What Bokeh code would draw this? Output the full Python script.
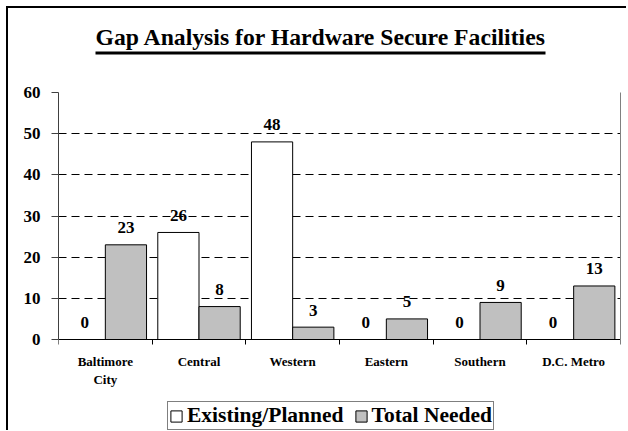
from bokeh.plotting import figure
from bokeh.models import (Range1d, FixedTicker, Legend, LegendItem, Title,
                          ColumnDataSource, LinearAxis)
from bokeh.embed import file_html
from bokeh.resources import INLINE
from bokeh.core.properties import value

# ---- data ----
categories = ["Baltimore\nCity", "Central", "Western", "Eastern", "Southern", "D.C. Metro"]
existing = [0, 26, 48, 0, 0, 0]
needed = [23, 8, 3, 5, 9, 13]
y_ticks = [0, 10, 20, 30, 40, 50, 60]
title_text = "Gap Analysis for Hardware Secure Facilities"
series_names = ["Existing/Planned", "Total Needed"]

FONT = "Liberation Serif"
OFF = 0.22
BW = 0.44

# layout: the plotted 0..60 band is 247 px tall; the frame is extended below it
# so that the category labels and the legend sit inside the frame
BAND_PX = 247
FRAME_PX = 340
Y_TOP = y_ticks[-1]
Y_BOTTOM = -Y_TOP * (FRAME_PX - BAND_PX) / BAND_PX

centers = [i + 0.5 for i in range(len(categories))]
src_e = ColumnDataSource(dict(x=[c - OFF for c in centers], top=existing,
                              lab=[str(v) for v in existing]))
src_n = ColumnDataSource(dict(x=[c + OFF for c in centers], top=needed,
                              lab=[str(v) for v in needed]))

p = figure(frame_width=562, frame_height=FRAME_PX, output_backend="svg",
           toolbar_location=None, title=None,
           x_range=Range1d(0, len(categories)), y_range=Range1d(Y_BOTTOM, Y_TOP),
           min_border_left=50, min_border_right=8, min_border_top=84, min_border_bottom=0)
p.background_fill_color = "white"
p.border_fill_color = "white"
p.outline_line_color = None
p.styles = {"margin-left": "8px", "margin-top": "8px",
            "box-shadow": "-2px -2px 0 0 black"}

# above: spacer, underline, title text (added from the frame outward)
p.add_layout(Title(text="\u200b", text_font_size="1px", standoff=35), "above")
p.add_layout(Title(text="\u200b", align="left", offset=37, text_font_size="1px",
                   standoff=0, background_fill_color="black",
                   padding=dict(left=225, right=225, top=1, bottom=1)), "above")
p.add_layout(Title(text=title_text, align="left", offset=37, text_font=FONT,
                   text_font_style="bold", text_font_size="23.7px",
                   text_color="black", standoff=0), "above")

# grid
p.xgrid.grid_line_color = None
p.ygrid.ticker = FixedTicker(ticks=y_ticks[1:])
p.ygrid.grid_line_color = "black"
p.ygrid.grid_line_dash = "8 5"
p.ygrid.grid_line_width = 1

# bars
r_e = p.vbar(x="x", top="top", width=BW, bottom=0, source=src_e,
             fill_color="white", line_color="black", line_width=1)
r_n = p.vbar(x="x", top="top", width=BW, bottom=0, source=src_n,
             fill_color="#c0c0c0", line_color="black", line_width=1)

# value labels
for src in (src_e, src_n):
    p.text(x="x", y="top", text="lab", source=src, text_align="center",
           text_baseline="alphabetic", y_offset=-17,
           text_font=value(FONT), text_font_style="bold", text_font_size="17px",
           text_color="black")

# y axis (line only over 0..60)
ya = p.yaxis[0]
ya.bounds = (y_ticks[0], y_ticks[-1])
ya.ticker = FixedTicker(ticks=y_ticks, minor_ticks=[])
ya.axis_line_color = "#404040"
ya.major_tick_line_color = "#404040"
ya.major_tick_out = 7
ya.major_tick_in = 0
ya.minor_tick_line_color = None
ya.major_label_standoff = 11
ya.major_label_text_font = FONT
ya.major_label_text_font_style = "bold"
ya.major_label_text_font_size = "17px"
ya.major_label_text_color = "black"

# right border of the plot area (0..60)
p.add_layout(LinearAxis(ticker=FixedTicker(ticks=[], minor_ticks=[]),
                        bounds=(y_ticks[0], y_ticks[-1]),
                        axis_line_color="#808080", major_tick_line_color=None,
                        minor_tick_line_color=None, major_label_text_font_size="0px"),
             "right")

# x axis drawn at y = 0
xa = p.xaxis[0]
xa.fixed_location = 0
xa.ticker = FixedTicker(ticks=centers, minor_ticks=list(range(len(categories) + 1)))
xa.major_label_overrides = {c: lab for c, lab in zip(centers, categories)}
xa.axis_line_color = "black"
xa.major_tick_line_color = None
xa.major_tick_out = 0
xa.major_tick_in = 0
xa.minor_tick_line_color = "black"
xa.minor_tick_out = 5
xa.minor_tick_in = 0
xa.major_label_standoff = 9
xa.major_label_text_font = FONT
xa.major_label_text_font_style = "bold"
xa.major_label_text_font_size = "13px"
xa.major_label_text_color = "black"

# legend inside the (extended) frame, bottom-left corner given in frame pixels
legend = Legend(items=[LegendItem(label=series_names[0], renderers=[r_e]),
                       LegendItem(label=series_names[1], renderers=[r_n])],
                location=(109, 2), orientation="horizontal")
legend.border_line_color = "black"
legend.border_line_width = 1
legend.background_fill_color = "white"
legend.background_fill_alpha = 1
legend.padding = 1
legend.margin = 0
legend.spacing = 10
legend.label_standoff = 4
legend.glyph_width = 14
legend.glyph_height = 14
legend.label_height = 18
legend.label_text_font = FONT
legend.label_text_font_style = "bold"
legend.label_text_font_size = "21.5px"
legend.label_text_color = "black"
p.add_layout(legend, "center")

open("out.html", "w").write(file_html(p, INLINE))
